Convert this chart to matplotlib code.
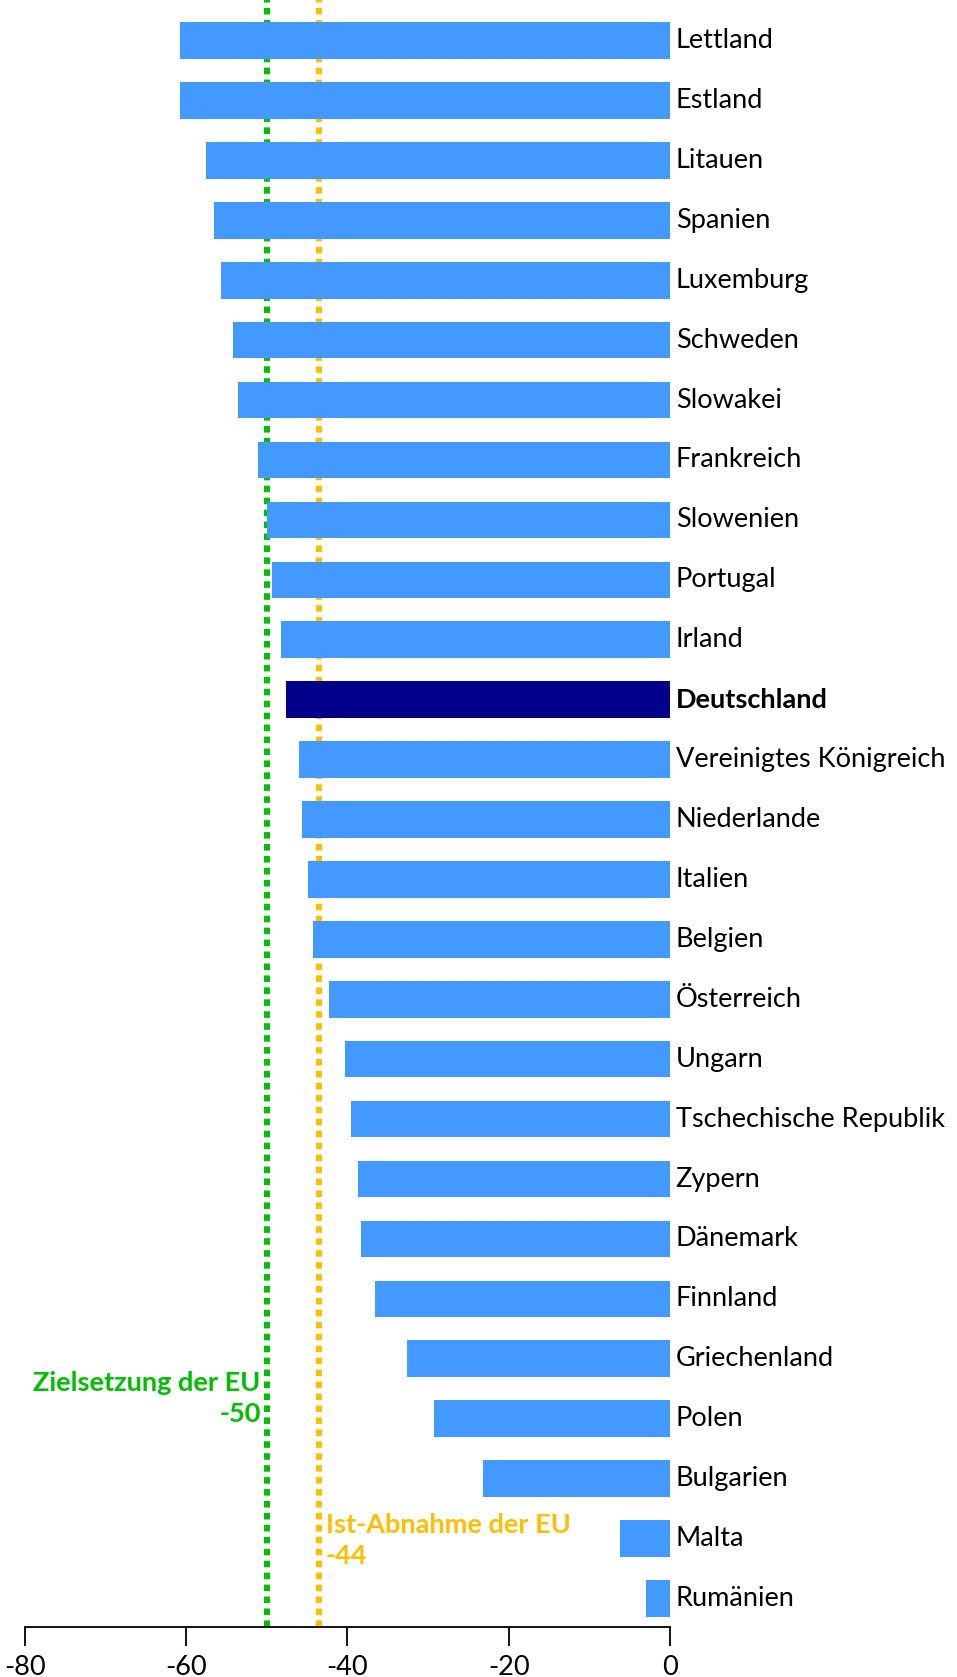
import matplotlib
matplotlib.use("Agg")
import matplotlib.pyplot as plt

plt.rcParams['font.family'] = ['Lato', 'DejaVu Sans']

# Veraenderung in Prozent
countries = ["Lettland", "Estland", "Litauen", "Spanien", "Luxemburg", "Schweden",
             "Slowakei", "Frankreich", "Slowenien", "Portugal", "Irland", "Deutschland",
             "Vereinigtes Königreich", "Niederlande", "Italien", "Belgien", "Österreich",
             "Ungarn", "Tschechische Republik", "Zypern", "Dänemark", "Finnland",
             "Griechenland", "Polen", "Bulgarien", "Malta", "Rumänien"]
values = [-60.8, -60.8, -57.5, -56.6, -55.7, -54.2, -53.6, -51.1, -50.0, -49.4,
          -48.3, -47.6, -46.0, -45.7, -44.9, -44.3, -42.3, -40.3, -39.6, -38.7,
          -38.3, -36.6, -32.6, -29.3, -23.2, -6.2, -3.0]
highlight = "Deutschland"

eu_target = -50
eu_actual = -43.5
eu_target_label = "Zielsetzung der EU\n-50"
eu_actual_label = "Ist-Abnahme der EU\n-44"

xticks = [-80, -60, -40, -20, 0]

BLUE = "#4399ff"
NAVY = "#00008b"
GREEN = "#00be00"
YELLOW = "#ffbe00"

fig = plt.figure(figsize=(9.57, 16.77), dpi=100)
ax = fig.add_axes([0.0261, 0.0298, 0.674, 0.9702])

ypos = list(range(len(countries)))
colors = [NAVY if c == highlight else BLUE for c in countries]
ax.barh(ypos, values, height=0.61, color=colors, zorder=3)

# EU reference lines, drawn behind the bars
ax.axvline(eu_target, color=GREEN, lw=4.3, linestyle=(0, (1.1, 0.9)), zorder=1)
ax.axvline(eu_actual, color=YELLOW, lw=4.3, linestyle=(0, (1.1, 0.9)), zorder=1)

for y, name in zip(ypos, countries):
    ax.text(0.7, y, name, ha="left", va="center", fontsize=19.5,
            fontweight="bold" if name == highlight else "normal", color="black")

ax.text(eu_target - 0.8, 22.66, eu_target_label, ha="right", va="center",
        fontsize=19.5, fontweight="bold", color=GREEN, linespacing=1.32)
ax.text(eu_actual + 0.8, 25.03, eu_actual_label, ha="left", va="center",
        fontsize=19.5, fontweight="bold", color=YELLOW, linespacing=1.36)

ax.set_xlim(-80, 0)
ax.set_ylim(len(countries) - 1 + 0.477, -0.677)
ax.set_xticks(xticks)
ax.set_xticklabels([str(t) for t in xticks])
ax.set_yticks([])
ax.tick_params(axis="x", direction="out", length=14, width=1.3, labelsize=19.5, pad=6)
for s in ["top", "right", "left"]:
    ax.spines[s].set_visible(False)
ax.spines["bottom"].set_linewidth(1.3)

fig.savefig("out.png", dpi=100)
